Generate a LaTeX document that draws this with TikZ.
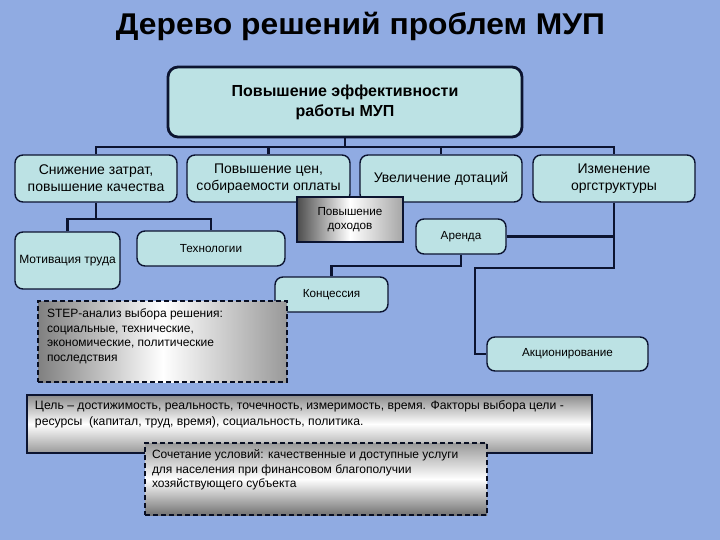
\documentclass[tikz,border=0pt]{standalone}
\usepackage{fontspec}
\setmainfont{Liberation Sans}
\definecolor{bgc}{RGB}{144,171,226}
\definecolor{boxc}{RGB}{188,226,228}
\definecolor{navy}{RGB}{12,20,48}
\begin{document}
\begin{tikzpicture}[x=1pt,y=-1pt,
  lbox/.style={draw=navy, line width=1.4pt, fill=boxc, rounded corners=8pt, align=center, inner sep=0pt},
  conn/.style={draw=navy, line width=2.6pt},
  gbox/.style={draw=navy, line width=1.2pt, inner sep=0pt},
  dashbox/.style={draw=navy!70!black, line width=2.2pt, dash pattern=on 5pt off 3pt, inner sep=0pt},
  big/.style={font=\fontsize{14}{17}\selectfont},
  small/.style={font=\fontsize{11.7}{14.5}\selectfont}
]
\fill[bgc] (0,0) rectangle (720,540);
\useasboundingbox (0,0) rectangle (720,540);

\node[font=\bfseries\fontsize{30}{36}\selectfont, anchor=base, inner sep=0pt] (title) at (360.5,35) {\scalebox{1.06}[1]{Дерево решений проблем МУП}};

\node[lbox, line width=2.8pt, rounded corners=10pt, minimum width=354pt, minimum height=70pt,
      font=\bfseries\fontsize{16}{20}\selectfont] (top) at (345,102) {Повышение эффективности\\работы МУП};

\node[lbox, big, minimum width=162pt, minimum height=47pt] (b1) at (96,178.5) {Снижение затрат,\\повышение качества};
\node[lbox, big, minimum width=163pt, minimum height=47pt] (b2) at (268.5,178.5) {Повышение цен,\\собираемости оплаты};
\node[lbox, big, minimum width=162pt, minimum height=47pt] (b3) at (441,178.5) {Увеличение дотаций};
\node[lbox, big, minimum width=162pt, minimum height=47pt] (b4) at (614,178.5) {Изменение\\оргструктуры};

\node[lbox, font=\fontsize{12}{14}\selectfont, minimum width=105pt, minimum height=57pt] (mot) at (67.5,260.5) {Мотивация труда};
\node[lbox, small, minimum width=148pt, minimum height=35pt] (tech) at (211,248.5) {Технологии};

\node[gbox, small, align=center, minimum width=106pt, minimum height=45pt,
      shading angle=80, left color=black!70, right color=black!35, middle color=white] (doh) at (350,219.5) {Повышение\\доходов};

\node[lbox, small, minimum width=90pt, minimum height=35pt] (arenda) at (461,236.5) {Аренда};
\node[lbox, small, minimum width=113pt, minimum height=35pt] (konc) at (331.5,294.5) {Концессия};
\node[lbox, small, minimum width=161pt, minimum height=34pt] (akc) at (567.5,354) {Акционирование};

\node[dashbox, left color=black!50, right color=black!40, middle color=white] (step) at (162.5,341.5)
  {\parbox[c][81pt][t]{249pt}{\vspace*{8pt}\raggedright\leftskip=9pt\fontsize{12}{14.4}\selectfont
   STEP-анализ выбора решения:\\социальные, технические,\\экономические, политические\\последствия}};

\node[gbox, top color=black!45, bottom color=black!40, middle color=white] (goal) at (309.5,424)
  {\parbox[c][58pt][t]{565pt}{\vspace*{6pt}\raggedright\leftskip=8pt\fontsize{12.2}{16}\selectfont
   Цель – достижимость, реальность, точечность, измеримость, время. Факторы выбора цели -\\ресурсы\ \ (капитал, труд, время), социальность, политика.}};

\node[dashbox, top color=black!40, bottom color=black!55, middle color=white] (comb) at (316,479)
  {\parbox[c][72pt][t]{342pt}{\vspace*{7pt}\raggedright\leftskip=7pt\fontsize{12}{14.5}\selectfont
   Сочетание условий: качественные и доступные услуги\\для населения при финансовом благополучии\\хозяйствующего субъекта}};

% connectors
\coordinate (bus) at (345,147);
\draw[conn] (top.south) -- (bus);
\draw[conn] (b1.north) -- (b1.north |- bus) -- (b4.north |- bus) -- (b4.north);
\draw[conn] (b2.north) -- (b2.north |- bus);
\draw[conn] (b3.north) -- (b3.north |- bus);
\coordinate (j1) at (96,219);
\draw[conn] (b1.south) -- (j1);
\draw[conn] (mot.north) -- (mot.north |- j1) -- (tech.north |- j1) -- (tech.north);
\draw[conn] (arenda.east) -- (arenda.east -| b4.south);
\coordinate (j4) at (475,268);
\draw[conn] (b4.south) |- (j4) -- (j4 |- akc.west) -- (akc.west);
\coordinate (j5) at (461,266);
\draw[conn] (arenda.south) -- (arenda.south |- j5) -| (konc.north);
\end{tikzpicture}
\end{document}
